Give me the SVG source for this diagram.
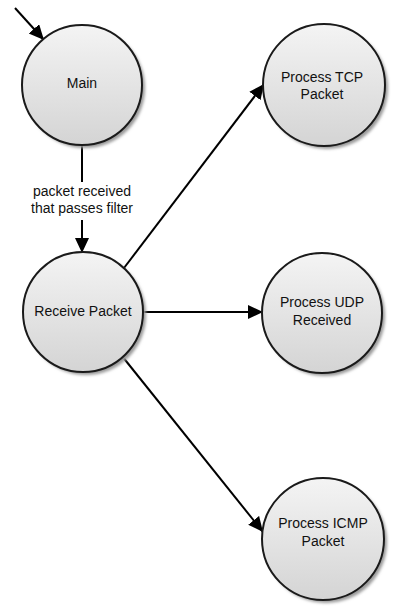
<svg xmlns="http://www.w3.org/2000/svg" width="405" height="610" viewBox="0 0 405 610">
  <defs>
    <linearGradient id="g" x1="0" y1="0" x2="0" y2="1">
      <stop offset="0" stop-color="#f4f4f4"/>
      <stop offset="1" stop-color="#d4d4d4"/>
    </linearGradient>
    <filter id="blur" x="-20%" y="-20%" width="140%" height="140%">
      <feGaussianBlur stdDeviation="1.5"/>
    </filter>
    <marker id="arr" markerUnits="userSpaceOnUse" markerWidth="16" markerHeight="16" refX="15" refY="7" orient="auto">
      <path d="M0,0 L15,7 L0,14 z" fill="#000"/>
    </marker>
    <style>
      .shadow { fill: #9a9a9a; filter: url(#blur); }
      .node { fill: url(#g); stroke: #1a1a1a; stroke-width: 2; }
      .lbl { font-family: "Liberation Sans", Arial, sans-serif; font-size: 14px; fill: #111; text-anchor: middle; }
      .edge { stroke: #000; stroke-width: 2; fill: none; }
      .arrow { marker-end: url(#arr); }
    </style>
  </defs>
  <rect width="405" height="610" fill="#fff"/>

  <g id="connectors">
    <line class="edge arrow" x1="15" y1="8" x2="44" y2="40"/>
    <line class="edge" x1="82" y1="145" x2="82" y2="182"/>
    <line class="edge arrow" x1="82" y1="220" x2="82" y2="253"/>
    <line class="edge arrow" x1="124" y1="268" x2="264" y2="84"/>
    <line class="edge arrow" x1="143" y1="312" x2="263" y2="312"/>
    <line class="edge arrow" x1="122" y1="356" x2="263" y2="532"/>
    <text class="lbl" x="82" y="196">packet received</text>
    <text class="lbl" x="82" y="213">that passes filter</text>
  </g>

  <g id="main">
    <circle class="shadow" cx="85" cy="88" r="60"/>
    <circle class="node" cx="82" cy="85" r="60"/>
    <text class="lbl" x="82" y="88">Main</text>
  </g>

  <g id="receive">
    <circle class="shadow" cx="86" cy="315" r="60"/>
    <circle class="node" cx="83" cy="312" r="60"/>
    <text class="lbl" x="83" y="316">Receive Packet</text>
  </g>

  <g id="tcp">
    <circle class="shadow" cx="327" cy="88" r="61"/>
    <circle class="node" cx="324" cy="85" r="61"/>
    <text class="lbl" x="322" y="82">Process TCP</text>
    <text class="lbl" x="322" y="99">Packet</text>
  </g>

  <g id="udp">
    <circle class="shadow" cx="325" cy="316" r="60"/>
    <circle class="node" cx="322" cy="313" r="60"/>
    <text class="lbl" x="322" y="307">Process UDP</text>
    <text class="lbl" x="322" y="325">Received</text>
  </g>

  <g id="icmp">
    <circle class="shadow" cx="326" cy="542" r="61"/>
    <circle class="node" cx="323" cy="539" r="61"/>
    <text class="lbl" x="323" y="528">Process ICMP</text>
    <text class="lbl" x="323" y="546">Packet</text>
  </g>
</svg>
